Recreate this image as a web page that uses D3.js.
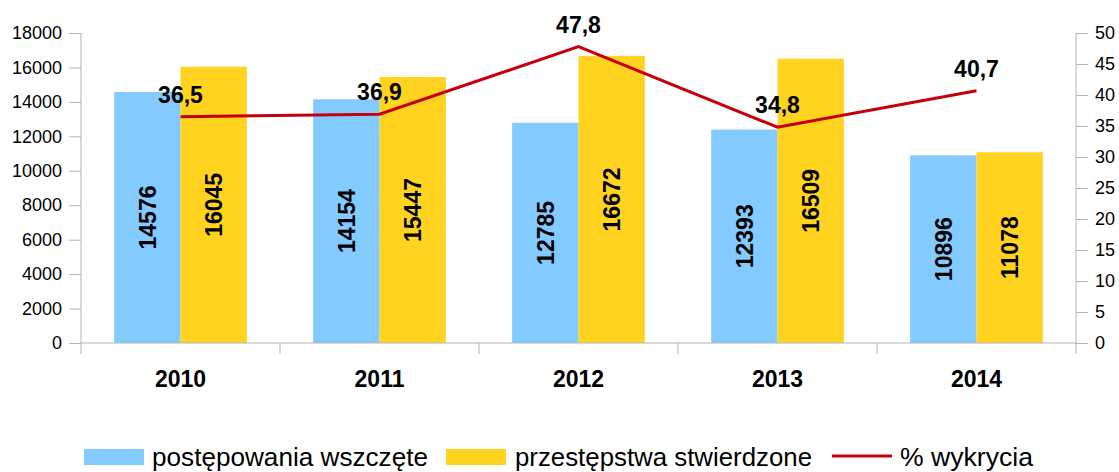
<!DOCTYPE html>
<html>
<head>
<meta charset="utf-8">
<script src="https://cdn.jsdelivr.net/npm/d3@7/dist/d3.min.js"></script>
<style>
  html, body { margin: 0; padding: 0; background: #ffffff; overflow: hidden; }
  svg { display: block; font-family: "Liberation Sans", Arial, sans-serif; }
</style>
</head>
<body>
<svg id="chart" width="1119" height="472"></svg>
<script>
const categories = ["2010", "2011", "2012", "2013", "2014"];
const seriesNames = ["postępowania wszczęte", "przestępstwa stwierdzone", "% wykrycia"];
const postepowania = [14576, 14154, 12785, 12393, 10896];
const przestepstwa = [16045, 15447, 16672, 16509, 11078];
const wykrycia = [36.5, 36.9, 47.8, 34.8, 40.7];
const leftTicks = [0, 2000, 4000, 6000, 8000, 10000, 12000, 14000, 16000, 18000];
const rightTicks = [0, 5, 10, 15, 20, 25, 30, 35, 40, 45, 50];

const colors = { blue: "#83caff", yellow: "#ffd320", red: "#c5000b", axis: "#b3b3b3" };

const svg = d3.select("#chart");
const pLeft = 81, pRight = 1076, pTop = 33, pBottom = 343;

const x = d3.scaleBand().domain(categories).range([pLeft, pRight]).padding(0);
const xs = d3.scaleBand().domain(["a", "b"]).range([x.bandwidth() / 6, x.bandwidth() * 5 / 6]).padding(0);
const yL = d3.scaleLinear().domain([0, 18000]).range([pBottom, pTop]);
const yR = d3.scaleLinear().domain([0, 50]).range([pBottom, pTop]);

// Bars
const barData = categories.map((c, i) => ({ c, a: postepowania[i], b: przestepstwa[i] }));
const g = svg.append("g");
barData.forEach(d => {
  [["a", d.a, colors.blue], ["b", d.b, colors.yellow]].forEach(([k, v, col]) => {
    const bx = x(d.c) + xs(k);
    g.append("rect")
      .attr("x", bx).attr("y", yL(v))
      .attr("width", xs.bandwidth()).attr("height", yL(0) - yL(v))
      .attr("fill", col);
    const cx = bx + xs.bandwidth() / 2, cy = (yL(v) + yL(0)) / 2;
    g.append("text")
      .attr("transform", `translate(${cx},${cy}) rotate(-90)`)
      .attr("text-anchor", "middle").attr("dy", "0.36em")
      .attr("font-size", 23).attr("font-weight", "bold").attr("fill", "#000")
      .text(v);
  });
});

// Axes
const axL = svg.append("g").attr("transform", `translate(${pLeft},0)`)
  .call(d3.axisLeft(yL).tickValues(leftTicks).tickSize(12).tickPadding(7).tickFormat(d3.format("d")));
const axR = svg.append("g").attr("transform", `translate(${pRight},0)`)
  .call(d3.axisRight(yR).tickValues(rightTicks).tickSize(12).tickPadding(7).tickFormat(d3.format("d")));
[axL, axR].forEach(ax => {
  ax.select(".domain").remove();
  ax.selectAll("line").attr("stroke", colors.axis);
  ax.selectAll("text").attr("font-size", 18).attr("fill", "#000").attr("font-family", "Liberation Sans, Arial, sans-serif");
});
svg.append("line").attr("x1", pLeft).attr("x2", pLeft).attr("y1", pTop).attr("y2", pBottom + 11).attr("stroke", colors.axis);
svg.append("line").attr("x1", pRight).attr("x2", pRight).attr("y1", pTop).attr("y2", pBottom + 11).attr("stroke", colors.axis);

// X axis
svg.append("line").attr("x1", pLeft).attr("x2", pRight).attr("y1", pBottom).attr("y2", pBottom).attr("stroke", colors.axis);
categories.slice(1).forEach(c => {
  svg.append("line").attr("x1", x(c)).attr("x2", x(c)).attr("y1", pBottom).attr("y2", pBottom + 11).attr("stroke", colors.axis);
});
categories.forEach(c => {
  svg.append("text").attr("x", x(c) + x.bandwidth() / 2).attr("y", 387)
    .attr("text-anchor", "middle").attr("font-size", 23).attr("font-weight", "bold").text(c);
});

// Line
const line = d3.line().x((d, i) => x(categories[i]) + x.bandwidth() / 2).y(d => yR(d));
svg.append("path").datum(wykrycia).attr("d", line)
  .attr("fill", "none").attr("stroke", colors.red).attr("stroke-width", 3);
wykrycia.forEach((v, i) => {
  svg.append("text").attr("x", x(categories[i]) + x.bandwidth() / 2).attr("y", yR(v) - 14)
    .attr("text-anchor", "middle").attr("font-size", 23).attr("font-weight", "bold")
    .text(String(v).replace(".", ","));
});

// Legend
const lg = svg.append("g");
lg.append("rect").attr("x", 84).attr("y", 449).attr("width", 60).attr("height", 16).attr("fill", colors.blue);
lg.append("text").attr("x", 152).attr("y", 466).attr("font-size", 25)
  .attr("textLength", 276).attr("lengthAdjust", "spacingAndGlyphs").text(seriesNames[0]);
lg.append("rect").attr("x", 446).attr("y", 449).attr("width", 60).attr("height", 16).attr("fill", colors.yellow);
lg.append("text").attr("x", 515).attr("y", 466).attr("font-size", 25)
  .attr("textLength", 297).attr("lengthAdjust", "spacingAndGlyphs").text(seriesNames[1]);
lg.append("line").attr("x1", 832).attr("x2", 892).attr("y1", 456).attr("y2", 456)
  .attr("stroke", colors.red).attr("stroke-width", 3);
lg.append("text").attr("x", 900).attr("y", 466).attr("font-size", 25)
  .attr("textLength", 133).attr("lengthAdjust", "spacingAndGlyphs").text(seriesNames[2]);
</script>
</body>
</html>
